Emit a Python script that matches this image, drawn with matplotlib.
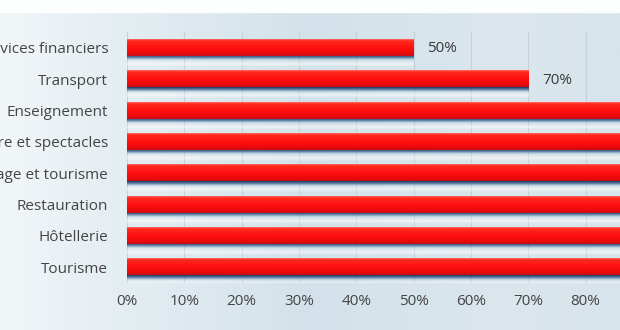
import numpy as np
import matplotlib.pyplot as plt
from matplotlib.colors import LinearSegmentedColormap

plt.rcParams['font.family'] = ['Open Sans', 'DejaVu Sans']

# Secteurs et pourcentages
secteurs = ['Services financiers', 'Transport', 'Enseignement',
            'Culture et spectacles', 'Voyage et tourisme', 'Restauration',
            'Hôtellerie', 'Tourisme']
valeurs = [50, 70, 100, 100, 100, 100, 100, 100]
etiquettes = ['50%', '70%', '', '', '', '', '', '']
ticks = [0, 10, 20, 30, 40, 50, 60, 70, 80]

W, H = 620, 330
fig = plt.figure(figsize=(W / 100, H / 100), dpi=100)

# fond dégradé
bg = fig.add_axes([0, 0, 1, 1])
bg_cmap = LinearSegmentedColormap.from_list(
    'bg', [(0, '#f1f6f8'), (0.2, '#e4edf2'), (0.5, '#d3e2ea'),
           (0.8, '#dbe6ed'), (1, '#d8e4eb')])
grad = np.linspace(0, 1, 256)[None, :]
bg.imshow(grad, cmap=bg_cmap, aspect='auto', extent=[0, 1, 0, 1])
bg.axhspan(1 - 12 / H, 1, color='#fdfefe', zorder=3)
bg.set_xlim(0, 1)
bg.set_ylim(0, 1)
bg.axis('off')

x0, x1 = 127 / W, 1.0
y_top, y_bot = 32 / H, 283 / H
ax = fig.add_axes([x0, 1 - y_bot, x1 - x0, y_bot - y_top])
ax.patch.set_alpha(0)

n = len(secteurs)
ypos = np.arange(n)
bar_h = 0.52
shadow_h = 0.17

red_cmap = LinearSegmentedColormap.from_list(
    'rouge', [(0, '#ff6a60'), (0.1, '#ff2a1e'), (0.5, '#ff1010'),
              (0.85, '#ec0a0a'), (1, '#c0101a')])
shadow_cmap = LinearSegmentedColormap.from_list(
    'ombre', [(0, (0.10, 0.20, 0.35, 1.0)), (0.45, (0.25, 0.42, 0.58, 0.75)),
              (1, (0.75, 0.85, 0.91, 0.0))])
reflet_cmap = LinearSegmentedColormap.from_list(
    'reflet', [(0, (1, 1, 1, 0.0)), (0.5, (1, 1, 1, 0.55)), (1, (1, 1, 1, 0.0))])
vgrad = np.linspace(0, 1, 64)[:, None]

for y, v in zip(ypos, valeurs):
    # reflet clair sous chaque barre
    ax.imshow(vgrad, cmap=reflet_cmap, aspect='auto',
              extent=[0, v, y + bar_h / 2 + shadow_h + 0.18, y + bar_h / 2 + shadow_h],
              zorder=1)
    ax.imshow(vgrad, cmap=shadow_cmap, aspect='auto',
              extent=[0, v, y + bar_h / 2 + shadow_h, y + bar_h / 2 - 0.02], zorder=2)
    ax.imshow(vgrad, cmap=red_cmap, aspect='auto',
              extent=[0, v, y + bar_h / 2, y - bar_h / 2], zorder=3)

for y, v, t in zip(ypos, valeurs, etiquettes):
    if t:
        ax.text(v + 2.4, y + 0.04, t, va='center', ha='left',
                fontsize=11, color='#3a3a3a', zorder=4)

ax.set_xlim(0, 86.0)
ax.set_ylim(n - 0.5, -0.5)
ax.set_xticks(ticks)
ax.set_xticklabels([f'{t}%' for t in ticks])
ax.set_yticks(ypos)
ax.set_yticklabels(secteurs)
ax.tick_params(axis='both', length=0, labelsize=11, labelcolor='#444444')
ax.tick_params(axis='y', pad=13.5)
ax.tick_params(axis='x', pad=8)
ax.xaxis.grid(True, color='#c5d0d8', linewidth=0.8, zorder=0)
ax.set_axisbelow(True)
for s in ax.spines.values():
    s.set_visible(False)
ax.axvline(0, color='#c9d3da', linewidth=0.8, zorder=0)

fig.savefig('out.png', dpi=100)
